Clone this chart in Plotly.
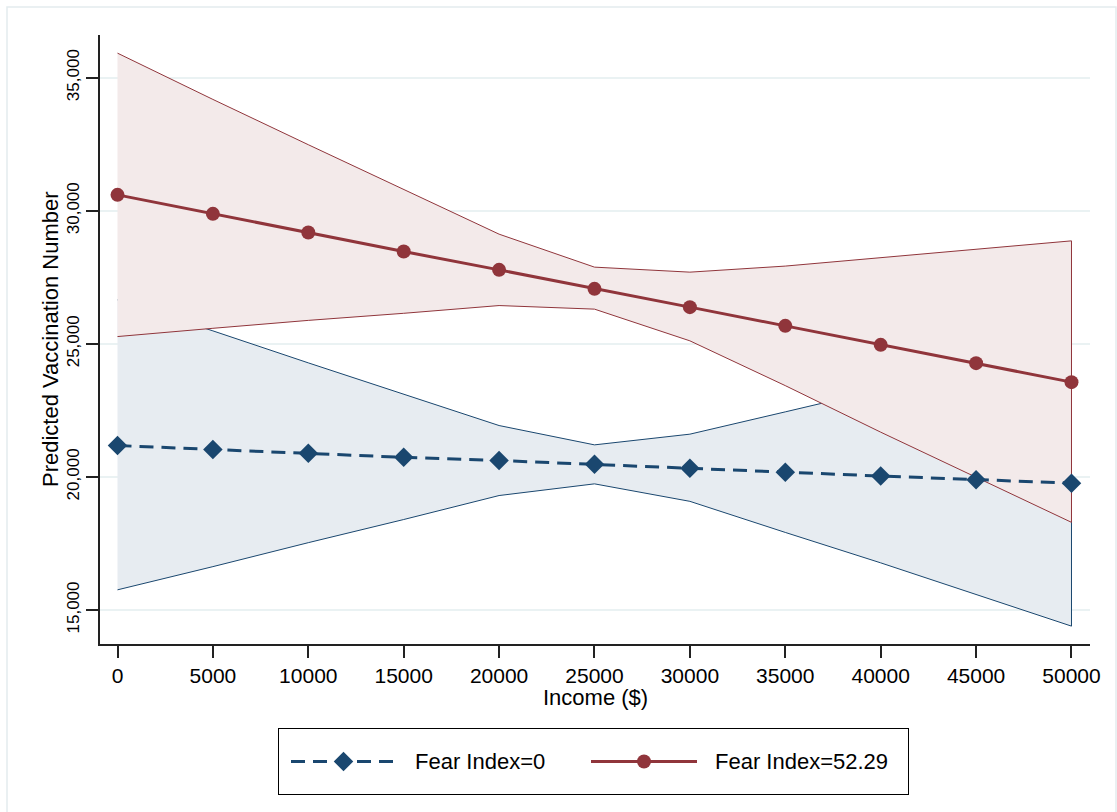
import plotly.graph_objects as go

# Adjusted predictions of vaccination numbers by income, at two fear-index levels
income = [0, 5000, 10000, 15000, 20000, 25000, 30000, 35000, 40000, 45000, 50000]
income_ticks = [0, 5000, 10000, 15000, 20000, 25000, 30000, 35000, 40000, 45000, 50000]
income_labels = ["0", "5000", "10000", "15000", "20000", "25000",
                 "30000", "35000", "40000", "45000", "50000"]
vacc_ticks = [15000, 20000, 25000, 30000, 35000]
vacc_labels = ["15,000", "20,000", "25,000", "30,000", "35,000"]

# Fear Index = 0: prediction and 95% confidence bounds
fear0_mean = [21179, 21029, 20894, 20736, 20616, 20480, 20330, 20180, 20033, 19890, 19767]
fear0_lo = [15758, 16630, 17530, 18400, 19301, 19740, 19083, 17915, 16772, 15589, 14394]
fear0_hi = [26653, 25488, 24286, 23122, 21931, 21205, 21607, 22445, 23288, 24171, 25142]

# Fear Index = 52.29: prediction and 95% confidence bounds
fear52_mean = [30598, 29884, 29182, 28468, 27780, 27066, 26379, 25676, 24962, 24275, 23561]
fear52_lo = [25274, 25584, 25882, 26148, 26439, 26304, 25113, 23430, 21682, 19992, 18294]
fear52_hi = [35922, 34184, 32482, 30788, 29121, 27882, 27694, 27922, 28242, 28558, 28870]

series_names = ["Fear Index=0", "Fear Index=52.29"]

NAVY = "#1A476F"
MAROON = "#90353B"
NAVY_FILL = "#E7ECF1"
MAROON_FILL = "#F3EAEA"
GRID = "#EAF2F3"
FONT = "Liberation Sans, Arial, Helvetica, sans-serif"

W, H = 1117, 812


def px_x(p):
    return p / W


def px_y(p):
    return 1 - p / H


fig = go.Figure()


def band(lo, hi, line_color, fill_color):
    return go.Scatter(
        x=income + income[::-1],
        y=hi + lo[::-1],
        mode="lines",
        fill="toself",
        fillcolor=fill_color,
        line=dict(color=line_color, width=1),
        hoverinfo="skip",
        showlegend=False,
    )


fig.add_trace(band(fear0_lo, fear0_hi, NAVY, NAVY_FILL))
fig.add_trace(band(fear52_lo, fear52_hi, MAROON, MAROON_FILL))

fig.add_trace(go.Scatter(
    x=income, y=fear0_mean, mode="lines+markers", name=series_names[0],
    line=dict(color=NAVY, width=3, dash="14px,8px"),
    marker=dict(symbol="diamond", size=15, color=NAVY),
    showlegend=False,
))
fig.add_trace(go.Scatter(
    x=income, y=fear52_mean, mode="lines+markers", name=series_names[1],
    line=dict(color=MAROON, width=3),
    marker=dict(symbol="circle", size=14, color=MAROON),
    showlegend=False,
))

# Legend box drawn on its own small axes (local units: pixels across the box)
key_line_blue = [12, 117]
key_line_red = [312, 418]
fig.add_trace(go.Scatter(
    x=key_line_blue, y=[0.5, 0.5], xaxis="x2", yaxis="y2", mode="lines",
    line=dict(color=NAVY, width=3, dash="14px,8px"), showlegend=False, hoverinfo="skip",
))
fig.add_trace(go.Scatter(
    x=[sum(key_line_blue) / 2], y=[0.5], xaxis="x2", yaxis="y2", mode="markers",
    marker=dict(symbol="diamond", size=15, color=NAVY), showlegend=False, hoverinfo="skip",
))
fig.add_trace(go.Scatter(
    x=key_line_red, y=[0.5, 0.5], xaxis="x2", yaxis="y2", mode="lines",
    line=dict(color=MAROON, width=3), showlegend=False, hoverinfo="skip",
))
fig.add_trace(go.Scatter(
    x=[sum(key_line_red) / 2], y=[0.5], xaxis="x2", yaxis="y2", mode="markers",
    marker=dict(symbol="circle", size=14, color=MAROON), showlegend=False, hoverinfo="skip",
))

annotations = [
    dict(text=series_names[0], x=134, y=0.5, xref="x2", yref="y2",
         xanchor="left", yanchor="middle", showarrow=False,
         font=dict(family=FONT, size=22, color="black")),
    dict(text=series_names[1], x=434, y=0.5, xref="x2", yref="y2",
         xanchor="left", yanchor="middle", showarrow=False,
         font=dict(family=FONT, size=22, color="black")),
    dict(text="Income ($)", x=px_x(595), y=px_y(697), xref="paper", yref="paper",
         xanchor="center", yanchor="middle", showarrow=False,
         font=dict(family=FONT, size=22, color="black")),
    dict(text="Predicted Vaccination Number", x=px_x(50), y=px_y(339), xref="paper",
         yref="paper", xanchor="center", yanchor="middle", showarrow=False, textangle=-90,
         font=dict(family=FONT, size=22, color="black")),
]

fig.update_layout(
    width=W, height=H,
    autosize=False,
    margin=dict(l=0, r=0, t=0, b=0, pad=0),
    paper_bgcolor="white",
    plot_bgcolor="white",
    font=dict(family=FONT, color="black"),
    showlegend=False,
    annotations=annotations,
    xaxis=dict(
        domain=[px_x(100), px_x(1090)],
        range=[-917, 50970],
        automargin=False,
        tickvals=income_ticks, ticktext=income_labels,
        ticks="outside", ticklen=12, tickwidth=1.5, tickcolor="#222",
        showline=True, linecolor="#222", linewidth=1.5,
        showgrid=False, zeroline=False,
        tickfont=dict(family=FONT, size=21, color="black"),
        anchor="y",
    ),
    yaxis=dict(
        domain=[px_y(644), px_y(35)],
        range=[13723, 36604],
        automargin=False,
        tickvals=vacc_ticks, ticktext=vacc_labels,
        tickangle=-90,
        ticks="outside", ticklen=12, tickwidth=1.5, tickcolor="#222",
        showline=True, linecolor="#222", linewidth=1.5,
        showgrid=True, gridcolor=GRID, gridwidth=2,
        zeroline=False,
        tickfont=dict(family=FONT, size=17, color="black"),
        anchor="x",
    ),
    xaxis2=dict(
        domain=[px_x(279), px_x(908)], range=[0, 629], anchor="y2",
        automargin=False,
        showline=True, mirror=True, linecolor="black", linewidth=1,
        showgrid=False, zeroline=False, showticklabels=False, ticks="",
        fixedrange=True,
    ),
    yaxis2=dict(
        domain=[px_y(794), px_y(729)], range=[0, 1], anchor="x2",
        automargin=False,
        showline=True, mirror=True, linecolor="black", linewidth=1,
        showgrid=False, zeroline=False, showticklabels=False, ticks="",
        fixedrange=True,
    ),
    shapes=[
        dict(type="rect", xref="paper", yref="paper",
             x0=px_x(7), x1=px_x(1116), y0=-0.02, y1=px_y(7),
             line=dict(color="#E3ECEE", width=1.5), fillcolor="rgba(0,0,0,0)",
             layer="below"),
    ],
)

fig.write_html("out.html")
